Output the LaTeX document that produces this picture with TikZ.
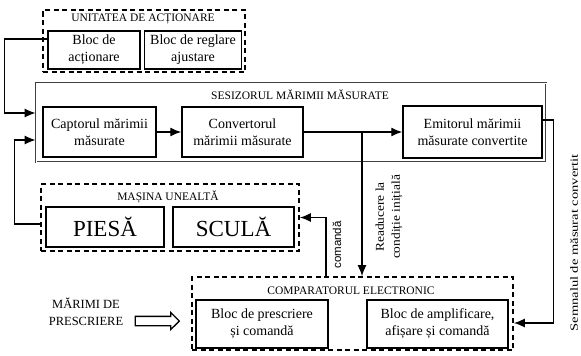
\documentclass[tikz,border=0pt]{standalone}
\usepackage{fontspec}
\setmainfont{Liberation Serif}
\newfontfamily\arialfont{Liberation Sans}
\usetikzlibrary{positioning}
\usetikzlibrary{arrows.meta,shapes.arrows}

\begin{document}
\begin{tikzpicture}[x=1pt, y=-1pt, line width=1.3pt,
		>={Latex[length=11pt,width=9pt]}]
		\tikzstyle{block}=[draw, line width=1.5pt, align=center, inner sep=1pt,
		font=\fontsize{14}{17}\selectfont]
		\tikzstyle{bigblock}=[block, font=\fontsize{23}{24}\selectfont]
		\tikzstyle{group}=[draw, line width=1.7pt, dash pattern=on 5pt off 3.5pt]
		\tikzstyle{sens}=[draw=black!75, double, double distance=1pt, line width=0.8pt]
		\tikzstyle{title}=[font=\fontsize{11.5}{13}\selectfont]
		\tikzstyle{wire}=[line width=1.3pt]
		\tikzstyle{vlabel}=[rotate=90, align=center, inner sep=0pt]

		\useasboundingbox (0,0) rectangle (581,356);

		% Unitatea de actionare
		\node[group, minimum width=202, minimum height=62](unit) at (144,41) {};
		\node[title](tunit) at (143,19) {UNITATEA DE ACȚIONARE};
		\node[block, minimum width=92, minimum height=38](act) at (94,50) {Bloc de\\acționare};
		\node[block, minimum width=97, minimum height=38](reg) at (193,50) {Bloc de reglare\\ajustare};

		% Sesizorul
		\node[sens, minimum width=510, minimum height=79](ses) at (291,122.5) {};
		\node[title](tses) at (300,95) {SESIZORUL MĂRIMII MĂSURATE};
		\node[block, minimum width=113, minimum height=50](cap) at (99.5,132) {Captorul mărimii\\măsurate};
		\node[block, minimum width=121, minimum height=50](conv) at (242.5,132) {Convertorul\\mărimii măsurate};
		\node[block, minimum width=139, minimum height=52](emit) at (472.5,132) {Emitorul mărimii\\măsurate convertite};

		% Masina unealta
		\node[group, minimum width=258, minimum height=67](mas) at (170,217.5) {};
		\node[title](tmas) at (168,197) {MAȘINA UNEALTĂ};
		\node[bigblock, minimum width=118, minimum height=40](pie) at (105,227) {PIESĂ};
		\node[bigblock, minimum width=121, minimum height=40](scu) at (233.5,227) {SCULĂ};

		% Comparatorul
		\node[group, minimum width=321, minimum height=73](cmp) at (352.5,313.5) {};
		\node[title](tcmp) at (351,291) {COMPARATORUL ELECTRONIC};
		\node[block, minimum width=132, minimum height=48](pre) at (262,324) {Bloc de prescriere\\și comandă};
		\node[block, minimum width=141, minimum height=48](amp) at (437.5,324) {Bloc de amplificare,\\afișare și comandă};

		% Marimi de prescriere
		\node[align=center, font=\fontsize{12.5}{17}\selectfont](mpre) at (86,312) {MĂRIMI DE\\PRESCRIERE};
		\node[single arrow, draw, line width=1.3pt, minimum height=44, inner sep=4pt,
		single arrow head extend=4pt](inarr) at (155,321) {};

		% Etichete verticale
		\node[vlabel, font=\arialfont\fontsize{11.5}{13}\selectfont](lcmd) at (337,245) {comandă};
		\node[vlabel, font=\fontsize{12}{16}\selectfont](lred) at (389,217) {\scalebox{1.12}[1]{Readucere la}\\\scalebox{1.12}[1]{condiție inițială}};
		\node[vlabel, font=\fontsize{11}{13}\selectfont](lsem) at (574,243) {\scalebox{1.32}[1]{Semnalul de măsurat convertit}};

		\newcommand{\brx}{362}
		\newcommand{\cmdx}{326}
		\coordinate (br) at (\brx,132);
		\coordinate (cmdtop) at (\cmdx,0);

		% Legaturi
		\draw[wire, ->] ([yshift=11pt]act.west) -- ++(-43,0) |- ([yshift=9.5pt]ses.west);
		\draw[wire, ->] ([yshift=-6.5pt]mas.west) -- ++(-26,0) |- ([yshift=-17.5pt]ses.west);
		\path (cap) edge [wire, ->] (conv);
		\path (conv) edge [wire, ->] (emit);
		\draw[wire, ->] (br) -- (br |- cmp.north);
		\draw[wire, ->] (cmdtop |- cmp.north) |- (mas.east);
		\draw[wire, ->] ([yshift=12pt]emit.east) -- ++(11,0) |- ([yshift=-9.5pt]cmp.east);

\end{tikzpicture}
\end{document}
